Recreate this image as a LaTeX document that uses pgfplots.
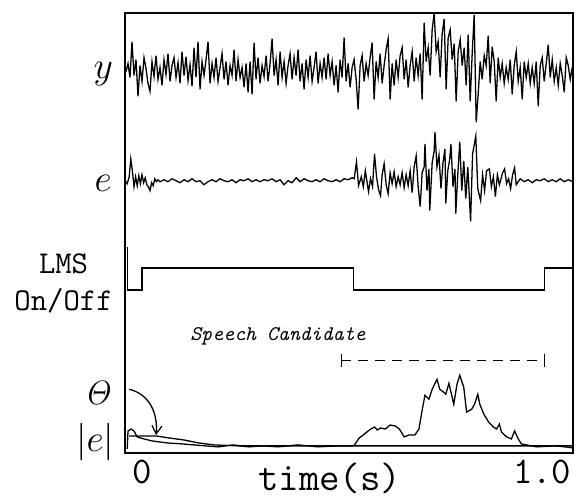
\RequirePackage{fix-cm}
\documentclass[border=0pt]{standalone}
\usepackage{pgfplots}
\usepackage{pgfplotstable}
\pgfplotsset{compat=1.18}
\usetikzlibrary{arrows.meta}

% y: recorded signal, offsets in px around its centre line
\pgfplotstableread[row sep=\\]{
t d\\
-0.040 0\\ -0.035 8\\ -0.030 -6\\ -0.025 30\\ -0.020 -4\\ -0.015 12\\ -0.010 -25\\ -0.005 6\\ 0.000 -10\\ 0.005 14\\
0.010 3\\ 0.015 -12\\ 0.020 -20\\ 0.025 10\\ 0.030 -5\\ 0.035 16\\ 0.040 -8\\ 0.045 4\\ 0.050 -14\\ 0.055 12\\
0.060 -3\\ 0.065 18\\ 0.070 -10\\ 0.075 6\\ 0.080 14\\ 0.085 -6\\ 0.090 9\\ 0.095 -12\\ 0.100 20\\ 0.105 -4\\
0.110 15\\ 0.115 -9\\ 0.120 7\\ 0.125 -15\\ 0.130 24\\ 0.135 -6\\ 0.140 30\\ 0.145 -18\\ 0.150 10\\ 0.155 -4\\
0.160 12\\ 0.165 30\\ 0.170 -12\\ 0.175 8\\ 0.180 -6\\ 0.185 14\\ 0.190 -10\\ 0.195 4\\ 0.200 18\\ 0.205 -8\\
0.210 10\\ 0.215 -14\\ 0.220 6\\ 0.225 -4\\ 0.230 22\\ 0.235 -10\\ 0.240 12\\ 0.245 -6\\ 0.250 4\\ 0.255 -16\\
0.260 8\\ 0.265 -21\\ 0.270 10\\ 0.275 -23\\ 0.280 29\\ 0.285 -8\\ 0.290 14\\ 0.295 -12\\ 0.300 6\\ 0.305 -5\\
0.310 16\\ 0.315 -10\\ 0.320 8\\ 0.325 33\\ 0.330 -4\\ 0.335 12\\ 0.340 -14\\ 0.345 20\\ 0.350 -6\\ 0.355 10\\
0.360 -12\\ 0.365 6\\ 0.370 18\\ 0.375 -8\\ 0.380 14\\ 0.385 -4\\ 0.390 22\\ 0.395 -10\\ 0.400 8\\ 0.405 -18\\
0.410 12\\ 0.415 -6\\ 0.420 16\\ 0.425 -10\\ 0.430 4\\ 0.435 20\\ 0.440 -12\\ 0.445 8\\ 0.450 -6\\ 0.455 14\\
0.460 -8\\ 0.465 18\\ 0.470 -4\\ 0.475 10\\ 0.480 -14\\ 0.485 6\\ 0.490 -21\\ 0.495 12\\ 0.500 -6\\ 0.505 34\\
0.510 -10\\ 0.515 8\\ 0.520 -16\\ 0.525 4\\ 0.530 12\\ 0.535 -8\\ 0.540 -38\\ 0.545 6\\ 0.550 16\\ 0.555 -10\\
0.560 8\\ 0.565 -4\\ 0.570 14\\ 0.575 29\\ 0.580 -28\\ 0.585 10\\ 0.590 -6\\ 0.595 18\\ 0.600 -12\\ 0.605 6\\
0.610 22\\ 0.615 33\\ 0.620 -28\\ 0.625 8\\ 0.630 -14\\ 0.635 12\\ 0.640 -6\\ 0.645 16\\ 0.650 24\\ 0.655 -8\\
0.660 12\\ 0.665 -16\\ 0.670 6\\ 0.675 20\\ 0.680 -10\\ 0.685 14\\ 0.690 -4\\ 0.695 18\\ 0.700 -28\\ 0.705 49\\
0.710 10\\ 0.715 24\\ 0.720 -4\\ 0.725 42\\ 0.730 59\\ 0.735 20\\ 0.740 30\\ 0.745 -6\\ 0.750 38\\ 0.755 53\\
0.760 -18\\ 0.765 34\\ 0.770 42\\ 0.775 12\\ 0.780 28\\ 0.785 -30\\ 0.790 20\\ 0.795 32\\ 0.800 6\\ 0.805 24\\
0.810 -14\\ 0.815 37\\ 0.820 -30\\ 0.825 18\\ 0.830 57\\ 0.835 -51\\ 0.840 -23\\ 0.845 10\\ 0.850 -8\\ 0.855 16\\
0.860 6\\ 0.865 36\\ 0.870 -12\\ 0.875 25\\ 0.880 10\\ 0.885 -30\\ 0.890 14\\ 0.895 -6\\ 0.900 8\\ 0.905 -12\\
0.910 4\\ 0.915 -8\\ 0.920 12\\ 0.925 -23\\ 0.930 6\\ 0.935 20\\ 0.940 -10\\ 0.945 4\\ 0.950 -28\\ 0.955 10\\
0.960 -6\\ 0.965 8\\ 0.970 -12\\ 0.975 4\\ 0.980 -12\\ 0.985 10\\ 0.990 -35\\ 0.995 6\\ 1.000 14\\ 1.005 -10\\
1.010 8\\ 1.015 27\\ 1.020 -6\\ 1.025 12\\ 1.030 -10\\ 1.035 4\\ 1.040 -14\\ 1.045 8\\ 1.050 -4\\ 1.055 -21\\
1.060 14\\ 1.065 6\\ 1.070 -8\\ 1.075 4\\
}\ytrace

% e: error signal after LMS
\pgfplotstableread[row sep=\\]{
t d\\
-0.042 0\\ -0.037 -3\\ -0.032 4\\ -0.028 22\\ -0.024 10\\ -0.020 -6\\ -0.016 4\\ -0.012 -5\\ -0.008 5\\ -0.004 -3\\
0.000 6\\ 0.004 -2\\ 0.008 3\\ 0.012 -4\\ 0.016 -6\\ 0.020 -10\\ 0.024 -2\\ 0.028 -5\\ 0.032 2\\ 0.036 -1\\ 0.040 1\\
0.045 -1\\ 0.055 1\\ 0.065 -1\\ 0.075 2\\ 0.085 0\\ 0.095 -2\\ 0.105 1\\ 0.115 -1\\ 0.125 2\\ 0.135 -1\\
0.145 0\\ 0.155 -4\\ 0.165 -1\\ 0.175 1\\ 0.185 -1\\ 0.195 2\\ 0.205 0\\ 0.215 -1\\ 0.225 1\\ 0.235 -2\\
0.245 1\\ 0.255 0\\ 0.265 2\\ 0.275 -1\\ 0.285 1\\ 0.295 -1\\ 0.305 1\\ 0.315 0\\ 0.325 2\\ 0.335 -1\\
0.345 1\\ 0.355 -4\\ 0.365 0\\ 0.375 -2\\ 0.385 3\\ 0.395 -1\\ 0.405 2\\ 0.415 0\\ 0.425 -1\\ 0.435 1\\
0.445 -1\\ 0.455 2\\ 0.465 0\\ 0.475 -1\\ 0.485 1\\ 0.495 -1\\ 0.505 2\\ 0.515 1\\ 0.525 3\\ 0.530 2\\
0.536 19\\ 0.541 -5\\ 0.548 4\\ 0.553 -6\\ 0.558 10\\ 0.566 -11\\ 0.571 2\\ 0.576 -6\\ 0.581 27\\ 0.586 4\\
0.591 -9\\ 0.596 -15\\ 0.600 6\\ 0.605 17\\ 0.610 -4\\ 0.615 -13\\ 0.620 8\\ 0.625 -3\\ 0.630 9\\ 0.635 -6\\
0.640 4\\ 0.645 -4\\ 0.650 8\\ 0.655 -7\\ 0.660 6\\ 0.665 -5\\ 0.670 10\\ 0.675 -12\\ 0.680 14\\ 0.685 25\\
0.690 -6\\ 0.695 -26\\ 0.700 8\\ 0.705 14\\ 0.707 37\\ 0.712 -10\\ 0.717 12\\ 0.719 -30\\ 0.725 18\\ 0.730 30\\
0.732 49\\ 0.737 14\\ 0.742 26\\ 0.747 -8\\ 0.752 18\\ 0.757 32\\ 0.759 -23\\ 0.764 10\\ 0.769 22\\ 0.772 37\\
0.777 -6\\ 0.782 12\\ 0.784 -33\\ 0.789 6\\ 0.794 39\\ 0.799 -10\\ 0.804 20\\ 0.809 -18\\ 0.814 14\\ 0.821 -41\\
0.826 27\\ 0.834 45\\ 0.839 -8\\ 0.846 -20\\ 0.851 6\\ 0.856 -10\\ 0.861 10\\ 0.868 12\\ 0.873 -6\\ 0.878 4\\
0.883 -16\\ 0.888 6\\ 0.893 -4\\ 0.901 8\\ 0.906 12\\ 0.911 -3\\ 0.916 2\\ 0.921 -8\\ 0.926 6\\ 0.931 13\\
0.935 -4\\ 0.945 2\\ 0.955 -1\\ 0.965 1\\ 0.975 -2\\ 0.985 1\\ 0.995 0\\ 1.005 2\\ 1.015 -1\\ 1.025 1\\
1.035 -1\\ 1.045 2\\ 1.055 -1\\ 1.065 1\\ 1.077 -1\\
}\etrace

\begin{document}
\begin{tikzpicture}
\begin{axis}[
  scale only axis,
  width=225.5pt,
  height=221.5pt,
  xmin=-0.04218, xmax=1.07692,
  ymin=51, ymax=494,
  xtick={0,1},
  xticklabels={\texttt{0},\texttt{1.0}},
  xticklabel style={font=\fontsize{19}{20}\selectfont},
  ytick=\empty,
  major tick length=0pt,
  axis line style={line width=1.2pt},
  clip=false,
  cycle list={{black,mark=none}},
  every axis plot/.append style={line width=0.65pt},
]
\addplot table[x index=0, y expr=\thisrowno{1}+435] {\ytrace};
\addplot table[x index=0, y expr=\thisrowno{1}+325] {\etrace};

% LMS on/off
\addplot[sharp plot] coordinates {
  (-0.037,258) (-0.037,215) (0,215) (0,237) (0.529,237) (0.529,215)
  (1.005,215) (1.005,237) (1.0769,237)
};

% speech candidate interval
\addplot[dash pattern=on 5pt off 3.5pt, {Bar[width=7pt]}-{Bar[width=7pt]}]
  coordinates {(0.496,144) (1.007,144)};

% threshold
\addplot coordinates {
  (-0.032,68) (0.035,68) (0.067,66) (0.104,64) (0.141,61) (0.179,59) (0.241,58) (1.0769,58)
};
% |e|
\addplot coordinates {
  (-0.037,55) (-0.035,73) (-0.027,75) (-0.020,73) (-0.012,67) (0.005,65) (0.025,63)
  (0.062,61) (0.099,60) (0.159,58) (0.191,57) (0.228,59) (0.266,57) (0.303,58)
  (0.340,57) (0.390,59) (0.439,57) (0.489,58) (0.526,58)
  (0.531,59) (0.543,66) (0.556,70) (0.568,74) (0.581,77) (0.588,74) (0.596,76)
  (0.608,75) (0.620,79) (0.633,78) (0.643,75) (0.655,67) (0.667,69) (0.682,69)
  (0.692,75) (0.700,94) (0.707,109) (0.717,105) (0.725,115) (0.737,125) (0.744,115)
  (0.754,112) (0.759,110) (0.767,121) (0.772,112) (0.779,100) (0.787,120) (0.794,129)
  (0.804,117) (0.811,92) (0.824,95) (0.831,100) (0.839,110) (0.844,100) (0.854,90)
  (0.866,82) (0.878,77) (0.886,75) (0.893,80) (0.898,72) (0.911,67) (0.923,65)
  (0.931,73) (0.940,65) (0.948,60) (0.960,59) (0.985,57) (1.035,58) (1.0769,56)
};

\draw[line width=0.65pt, -{Straight Barb[length=4pt,width=5pt]}]
  (axis cs:-0.032,115) .. controls (axis cs:0.02,110) and (axis cs:0.04,90) .. (axis cs:0.035,69);

\node[font=\fontsize{19}{22}\selectfont] at (axis cs:-0.097,432) {$y$};
\node[font=\fontsize{19}{22}\selectfont] at (axis cs:-0.097,322) {$e$};
\node[font=\fontsize{16}{18}\selectfont\ttfamily, anchor=base] at (axis cs:-0.196,232) {LMS};
\node[font=\fontsize{16}{18}\selectfont\ttfamily, anchor=base] at (axis cs:-0.196,194) {On/Off};
\node[font=\fontsize{10.5}{12}\selectfont\ttfamily\itshape] at (axis cs:0.340,168) {Speech Candidate};
\node[font=\fontsize{17}{20}\selectfont] at (axis cs:-0.109,111) {$\mathit{\Theta}$};
\node[font=\fontsize{19}{22}\selectfont] at (axis cs:-0.117,62) {$|e|$};
\node[font=\fontsize{20}{24}\selectfont\ttfamily, anchor=base] at (axis cs:0.469,13) {time(s)};

\path (axis cs:-0.35484,0) rectangle (axis cs:1.0794,507);
\end{axis}
\end{tikzpicture}
\end{document}
